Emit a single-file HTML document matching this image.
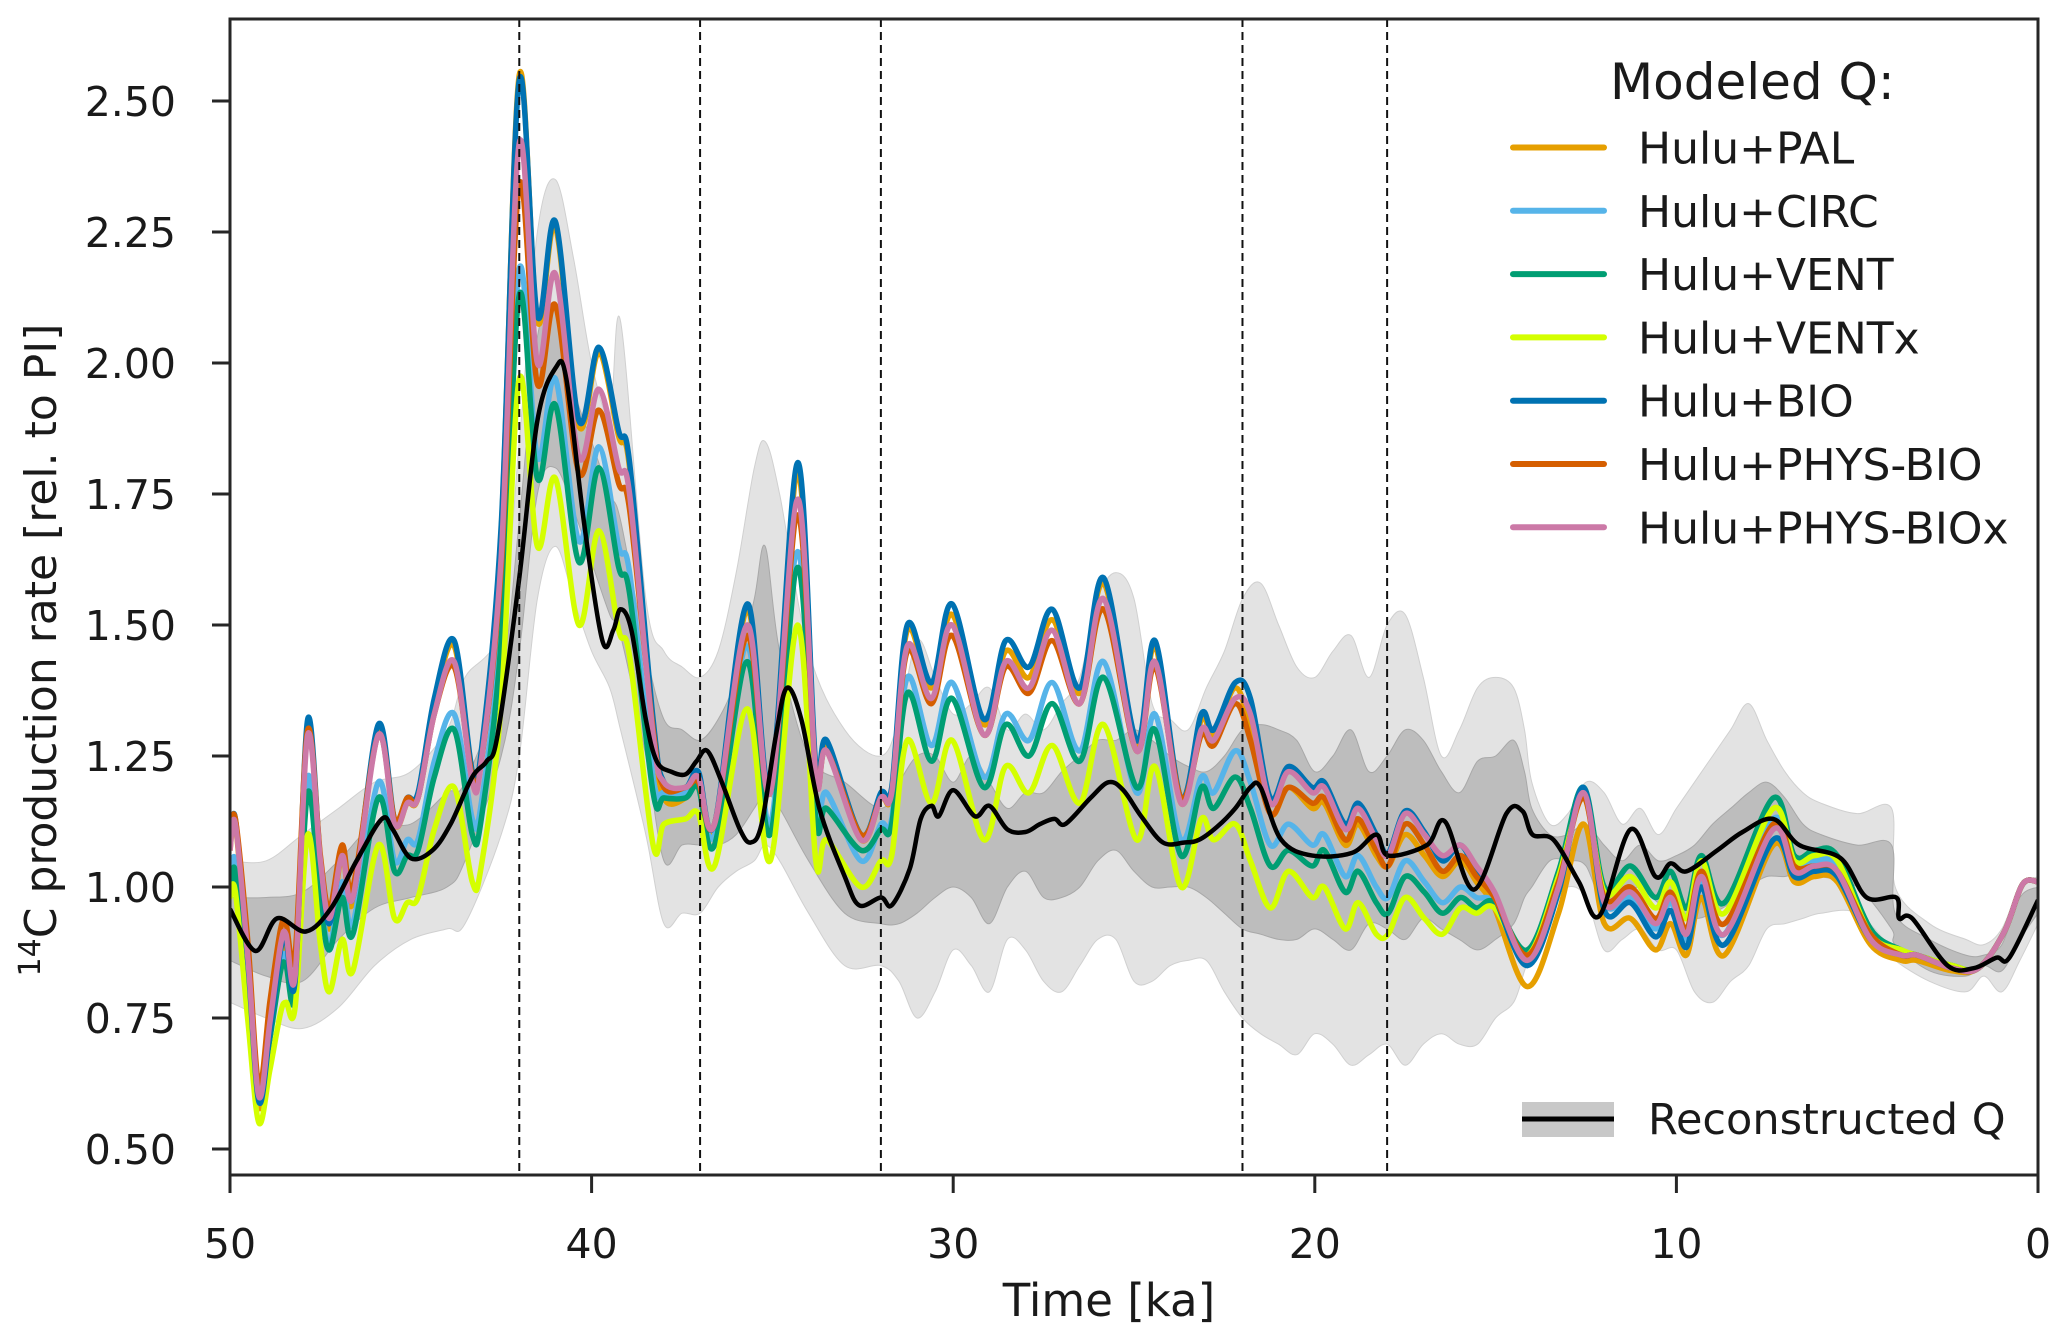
<!DOCTYPE html>
<html><head><meta charset="utf-8"><style>
html,body{margin:0;padding:0;background:#fff;}
svg{display:block;font-family:"DejaVu Sans","Liberation Sans",sans-serif;}
</style></head><body>
<svg id="chart" width="2067" height="1340" viewBox="0 0 2067 1340" xmlns="http://www.w3.org/2000/svg">
<defs><clipPath id="plotclip"><rect x="230" y="19" width="1808" height="1156"/></clipPath></defs>
<g id="bands" clip-path="url(#plotclip)"></g>
<g id="series" clip-path="url(#plotclip)"></g>
<g id="vlines"></g>
<g id="axes"></g>
<text x="1109" y="1316" font-size="45" text-anchor="middle" fill="#1a1a1a">Time [ka]</text>
<text transform="translate(56,650) rotate(-90)" font-size="44" text-anchor="middle" fill="#1a1a1a"><tspan font-size="30" dy="-16">14</tspan><tspan dy="16">C production rate [rel. to PI]</tspan></text>
<g id="legend">
<text x="1610" y="99" font-size="50" fill="#1a1a1a">Modeled Q:</text>
</g>
<g>
<rect x="1522" y="1102" width="92" height="35" fill="#c8c8c8"/>
<line x1="1522" y1="1119" x2="1614" y2="1119" stroke="#000" stroke-width="5"/>
<text x="1648" y="1134" font-size="43" fill="#1a1a1a">Reconstructed Q</text>
</g>
</svg>
<script>
const times=[50,49.85,49.5,49.2,48.9,48.6,48.45,48.2,47.85,47.5,47.25,46.9,46.6,45.9,45.45,45.1,44.8,44.35,43.8,43.3,43.05,42.5,42.0,41.5,41.0,40.35,39.8,39.25,38.95,38.3,38.0,37.4,37.05,36.6,35.7,35.06,34.3,33.8,33.5,32.55,32.0,31.7,31.27,30.6,30.03,29.15,28.55,27.9,27.26,26.5,25.84,24.93,24.42,23.7,23.14,22.8,22.2,21.78,21.23,20.73,20.07,19.74,19.16,18.8,18.3,17.97,17.5,16.97,16.47,15.97,15.53,15.03,14.12,13.26,12.57,11.99,11.27,10.58,10.16,9.72,9.31,8.67,7.32,6.74,6.18,5.55,4.63,3.78,3.35,2.37,1.65,0.93,0.43,0];
const qBIO=[1.08,1.13,0.85,0.59,0.72,0.88,0.90,0.82,1.32,1.05,0.93,1.07,0.98,1.31,1.13,1.17,1.18,1.36,1.47,1.22,1.26,1.69,2.54,2.09,2.27,1.89,2.03,1.87,1.81,1.32,1.20,1.19,1.22,1.12,1.54,1.19,1.81,1.23,1.28,1.10,1.18,1.19,1.50,1.39,1.54,1.32,1.47,1.42,1.53,1.38,1.59,1.28,1.47,1.17,1.33,1.30,1.39,1.36,1.17,1.23,1.19,1.20,1.12,1.16,1.10,1.065,1.145,1.105,1.05,1.08,1.03,0.98,0.85,0.99,1.19,0.955,0.97,0.905,0.955,0.885,1.0,0.89,1.09,1.02,1.03,1.02,0.90,0.87,0.87,0.845,0.845,0.915,1.005,1.01];
const qPAL=[1.07,1.12,0.84,0.58,0.71,0.87,0.89,0.81,1.31,1.04,0.92,1.06,0.97,1.30,1.12,1.16,1.17,1.35,1.46,1.21,1.25,1.68,2.55,2.08,2.26,1.88,2.02,1.86,1.80,1.31,1.17,1.17,1.21,1.11,1.53,1.18,1.79,1.22,1.27,1.09,1.17,1.18,1.49,1.38,1.52,1.31,1.45,1.40,1.51,1.37,1.58,1.27,1.46,1.16,1.32,1.29,1.38,1.30,1.14,1.19,1.15,1.16,1.08,1.12,1.06,1.04,1.10,1.06,1.02,1.05,1.01,0.96,0.81,0.95,1.12,0.93,0.94,0.88,0.93,0.87,0.98,0.87,1.08,1.01,1.02,1.01,0.89,0.86,0.86,0.84,0.845,0.915,1.005,1.01];
const qPHYSBIOx=[1.07,1.12,0.86,0.60,0.74,0.89,0.91,0.83,1.29,1.05,0.94,1.06,0.98,1.29,1.12,1.16,1.17,1.33,1.43,1.20,1.24,1.63,2.42,2.00,2.17,1.82,1.95,1.80,1.75,1.29,1.20,1.19,1.21,1.12,1.50,1.18,1.74,1.21,1.26,1.09,1.17,1.18,1.46,1.36,1.50,1.29,1.43,1.38,1.49,1.35,1.55,1.26,1.43,1.16,1.30,1.28,1.36,1.33,1.16,1.22,1.18,1.19,1.11,1.15,1.09,1.06,1.14,1.10,1.06,1.08,1.04,0.99,0.86,1.00,1.18,0.97,0.99,0.93,0.98,0.91,1.02,0.91,1.11,1.03,1.04,1.03,0.90,0.87,0.87,0.845,0.845,0.915,1.005,1.01];
const qPHYSBIO=[1.09,1.13,0.89,0.62,0.78,0.92,0.93,0.87,1.30,1.06,0.96,1.08,1.00,1.29,1.13,1.17,1.17,1.33,1.42,1.21,1.24,1.61,2.34,1.96,2.11,1.79,1.91,1.77,1.72,1.30,1.19,1.19,1.20,1.12,1.48,1.18,1.71,1.21,1.26,1.10,1.17,1.18,1.45,1.35,1.48,1.29,1.42,1.37,1.47,1.35,1.53,1.26,1.42,1.17,1.29,1.27,1.35,1.28,1.14,1.19,1.16,1.17,1.09,1.13,1.07,1.04,1.12,1.08,1.03,1.06,1.02,0.98,0.87,1.01,1.17,0.98,1.00,0.94,0.99,0.92,1.03,0.93,1.12,1.04,1.04,1.03,0.91,0.87,0.87,0.845,0.845,0.915,1.005,1.01];
const qCIRC=[1.01,1.05,0.83,0.60,0.73,0.85,0.87,0.81,1.21,0.99,0.89,1.01,0.93,1.20,1.05,1.09,1.09,1.24,1.33,1.13,1.16,1.50,2.18,1.82,1.97,1.66,1.84,1.65,1.60,1.21,1.18,1.18,1.20,1.10,1.46,1.12,1.64,1.14,1.18,1.05,1.12,1.13,1.40,1.27,1.39,1.21,1.33,1.28,1.39,1.26,1.43,1.18,1.33,1.09,1.21,1.18,1.26,1.20,1.08,1.12,1.08,1.10,1.02,1.06,1.00,0.98,1.05,1.01,0.97,1.00,0.98,0.97,0.87,1.02,1.19,0.97,0.98,0.92,0.97,0.90,1.01,0.91,1.13,1.04,1.05,1.04,0.91,0.87,0.87,0.845,0.845,0.915,1.005,1.01];
const qVENT=[0.99,1.03,0.81,0.60,0.71,0.84,0.85,0.79,1.18,0.97,0.88,0.98,0.91,1.17,1.03,1.06,1.07,1.21,1.30,1.10,1.13,1.47,2.13,1.78,1.92,1.62,1.80,1.61,1.56,1.18,1.17,1.17,1.19,1.08,1.43,1.10,1.61,1.13,1.15,1.07,1.11,1.12,1.37,1.24,1.36,1.19,1.31,1.25,1.35,1.24,1.40,1.19,1.30,1.06,1.19,1.15,1.21,1.15,1.04,1.07,1.04,1.07,0.99,1.03,0.97,0.95,1.02,0.99,0.95,0.98,0.96,0.97,0.88,1.03,1.19,1.00,1.04,0.98,1.03,0.96,1.06,0.97,1.17,1.06,1.07,1.06,0.92,0.88,0.87,0.85,0.845,0.915,1.005,1.01];
const qVENTx=[0.98,0.99,0.74,0.55,0.65,0.76,0.78,0.77,1.10,0.89,0.80,0.90,0.84,1.08,0.94,0.97,0.98,1.11,1.19,1.01,1.04,1.35,1.97,1.65,1.78,1.50,1.68,1.49,1.44,1.08,1.12,1.13,1.14,1.04,1.34,1.05,1.50,1.05,1.09,1.00,1.05,1.06,1.28,1.16,1.28,1.09,1.23,1.18,1.27,1.16,1.31,1.09,1.23,1.00,1.13,1.09,1.12,1.05,0.96,1.03,0.98,1.00,0.92,0.97,0.91,0.91,0.98,0.94,0.91,0.96,0.95,0.96,0.87,1.02,1.17,0.99,1.02,0.96,1.01,0.94,1.05,0.95,1.15,1.05,1.06,1.05,0.91,0.88,0.87,0.85,0.845,0.915,1.005,1.01];
const recTimes=[50,49.3,48.7,47.9,47.2,46.5,45.8,45.5,45.0,44.4,43.9,43.3,42.9,42.6,42.0,41.5,41.0,40.7,40.2,39.7,39.4,39.2,38.9,38.5,38.2,37.8,37.4,37.1,36.8,36.4,35.9,35.6,35.3,34.9,34.6,34.2,33.7,33.0,32.6,32.0,31.7,31.2,30.9,30.6,30.4,30.0,29.4,29.0,28.5,28.0,27.6,27.2,26.9,26.2,25.7,25.3,24.8,24.2,23.6,23.2,22.7,22.2,21.78,21.5,20.93,20.07,18.97,18.3,17.97,16.9,16.4,15.6,14.7,14.26,13.98,13.4,12.7,12.13,11.27,10.58,10.16,9.72,8.87,8.17,7.32,6.6,5.46,4.74,3.92,3.84,3.48,2.5,1.78,1.15,0.79,0];
const recQ=[0.958,0.878,0.94,0.915,0.96,1.05,1.13,1.11,1.055,1.07,1.12,1.21,1.24,1.29,1.59,1.89,1.99,1.97,1.69,1.47,1.49,1.53,1.49,1.32,1.24,1.22,1.215,1.24,1.26,1.20,1.11,1.085,1.12,1.29,1.38,1.32,1.15,1.02,0.965,0.98,0.965,1.035,1.13,1.155,1.135,1.185,1.135,1.155,1.11,1.105,1.12,1.13,1.12,1.17,1.20,1.185,1.135,1.085,1.085,1.09,1.115,1.15,1.19,1.19,1.09,1.06,1.065,1.10,1.06,1.08,1.125,0.995,1.14,1.145,1.10,1.09,1.01,0.945,1.11,1.02,1.045,1.03,1.07,1.105,1.13,1.08,1.055,0.98,0.98,0.94,0.94,0.85,0.845,0.865,0.865,0.975];
const bandTimes=[50,49,48,47,46,45,44,43.5,42.5,42,41.5,41,40.5,40,39.5,39.2,38.5,38,37.5,37,36.5,36,35.5,35.2,34.8,34,33,32,31.5,31,30.5,30,29.5,29,28.5,28,27.5,27,26.5,26,25.5,25,24.5,24,23.5,23,22.5,22,21.5,21,20.5,20,19.5,19,18.5,18,17.5,17,16.5,16,15.5,15,14.5,14.2,14,13.5,13,12.5,12,11.5,11,10.5,10,9.5,9,8.5,8,7.5,7,6.5,6,5,4.05,3.95,3,2,1.5,1,0.5,0];
const lightLo=[0.78,0.75,0.73,0.77,0.85,0.90,0.92,0.93,1.10,1.25,1.55,1.65,1.55,1.45,1.38,1.30,1.10,0.93,0.95,0.95,1.00,1.03,1.05,1.08,1.05,0.95,0.85,0.85,0.82,0.75,0.80,0.88,0.85,0.80,0.90,0.88,0.82,0.80,0.85,0.90,0.90,0.82,0.82,0.85,0.86,0.86,0.80,0.75,0.72,0.70,0.68,0.72,0.70,0.66,0.68,0.70,0.66,0.70,0.72,0.70,0.70,0.75,0.78,0.84,0.88,0.96,1.00,0.98,0.88,0.90,0.92,0.88,0.88,0.80,0.78,0.82,0.85,0.92,0.93,0.94,0.95,0.95,0.88,0.86,0.82,0.80,0.83,0.80,0.86,0.93];
const darkLo=[0.86,0.83,0.82,0.90,0.96,0.98,1.00,1.05,1.25,1.45,1.75,1.80,1.72,1.62,1.52,1.48,1.25,1.05,1.08,1.08,1.08,1.10,1.15,1.18,1.15,1.05,0.95,0.93,0.93,0.95,0.98,1.00,0.98,0.93,1.00,1.03,0.98,0.98,1.00,1.05,1.07,1.03,1.00,1.00,1.00,0.98,0.95,0.92,0.91,0.90,0.90,0.92,0.90,0.88,0.93,0.92,0.90,0.94,0.92,0.90,0.88,0.90,0.93,0.98,1.00,1.05,1.05,1.04,0.96,0.98,1.00,0.97,0.96,0.94,0.95,0.97,1.00,1.02,1.02,1.03,1.02,1.00,0.92,0.89,0.84,0.83,0.85,0.84,0.90,0.95];
const darkHi=[0.98,0.98,0.99,1.05,1.12,1.12,1.18,1.20,1.40,1.70,2.05,2.10,1.95,1.85,1.75,1.70,1.45,1.32,1.30,1.28,1.32,1.40,1.55,1.65,1.45,1.25,1.20,1.15,1.20,1.25,1.25,1.20,1.25,1.20,1.15,1.18,1.18,1.22,1.25,1.28,1.28,1.30,1.28,1.25,1.23,1.22,1.25,1.30,1.31,1.30,1.28,1.22,1.25,1.30,1.22,1.25,1.30,1.28,1.22,1.18,1.24,1.25,1.28,1.22,1.15,1.10,1.10,1.12,1.08,1.05,1.08,1.05,1.06,1.08,1.12,1.15,1.18,1.20,1.17,1.12,1.10,1.08,1.08,0.95,0.90,0.87,0.87,0.89,0.98,1.00];
const lightHi=[1.05,1.05,1.10,1.15,1.20,1.22,1.30,1.40,1.50,1.85,2.25,2.35,2.20,2.00,1.90,2.08,1.55,1.45,1.42,1.40,1.45,1.60,1.80,1.85,1.75,1.45,1.30,1.25,1.32,1.47,1.40,1.33,1.35,1.38,1.30,1.33,1.30,1.35,1.40,1.55,1.60,1.55,1.35,1.32,1.30,1.38,1.45,1.55,1.58,1.50,1.42,1.40,1.45,1.48,1.40,1.50,1.52,1.40,1.25,1.30,1.38,1.40,1.38,1.30,1.20,1.12,1.14,1.20,1.18,1.12,1.15,1.10,1.15,1.20,1.25,1.30,1.35,1.28,1.22,1.18,1.16,1.14,1.15,1.00,0.93,0.90,0.89,0.92,1.00,1.02];
const eventTimes=[42,37,32,22,18];
const xTicks=[50,40,30,20,10,0];
const yTicks=[0.50,0.75,1.00,1.25,1.50,1.75,2.00,2.25,2.50];
const seriesNames=["Hulu+PAL","Hulu+CIRC","Hulu+VENT","Hulu+VENTx","Hulu+BIO","Hulu+PHYS-BIO","Hulu+PHYS-BIOx"];
const seriesData=[qPAL,qCIRC,qVENT,qVENTx,qBIO,qPHYSBIO,qPHYSBIOx];
const seriesColors=["#E69F00","#56B4E9","#009E73","#D4FF00","#0072B2","#D55E00","#CC79A7"];

const L=230,R=2038,T=19,B=1175;
const xs=t=>L+(50-t)/50*(R-L);
const ys=v=>101+(2.5-v)/0.25*131;
const NS="http://www.w3.org/2000/svg";
function mk(tag,attrs,parent){const e=document.createElementNS(NS,tag);for(const k in attrs)e.setAttribute(k,attrs[k]);parent.appendChild(e);return e;}
function pts(tt,vv){const n=Math.min(tt.length,vv.length);const p=[];for(let i=0;i<n;i++)p.push([xs(tt[i]),ys(vv[i])]);return p;}
function smooth(p,move){let d=(move?"M":"L")+p[0][0].toFixed(1)+","+p[0][1].toFixed(1);
 for(let i=0;i<p.length-1;i++){const p0=p[i-1]||p[i],p1=p[i],p2=p[i+1],p3=p[i+2]||p2;
  const c1=[p1[0]+(p2[0]-p0[0])/6,p1[1]+(p2[1]-p0[1])/6],c2=[p2[0]-(p3[0]-p1[0])/6,p2[1]-(p3[1]-p1[1])/6];
  d+="C"+c1[0].toFixed(1)+","+c1[1].toFixed(1)+" "+c2[0].toFixed(1)+","+c2[1].toFixed(1)+" "+p2[0].toFixed(1)+","+p2[1].toFixed(1);}
 return d;}
function band(lo,hi){const a=pts(bandTimes,hi),b=pts(bandTimes,lo).reverse();return smooth(a,true)+smooth(b,false)+"Z";}

const gB=document.getElementById("bands");
const lb=mk("path",{d:band(lightLo,lightHi),fill:"#e3e3e3",stroke:"#d0d0d0","stroke-width":1},gB);


const db=mk("path",{d:band(darkLo,darkHi),fill:"#bdbdbd",stroke:"#a8a8a8","stroke-width":1},gB);



const gS=document.getElementById("series");
seriesData.forEach((vals,i)=>{
 const p=mk("path",{d:smooth(pts(times,vals),true),fill:"none",stroke:seriesColors[i],"stroke-width":5.5,"stroke-linejoin":"round"},gS);
 
 
});
const rl=mk("path",{d:smooth(pts(recTimes,recQ),true),fill:"none",stroke:"#000","stroke-width":4.5,"stroke-linejoin":"round"},gS);



const gV=document.getElementById("vlines");
eventTimes.forEach(t=>{
 const l=mk("line",{x1:xs(t),x2:xs(t),y1:T,y2:B,stroke:"#111","stroke-width":2,"stroke-dasharray":"8,5"},gV);
 
 
});

const gA=document.getElementById("axes");
const fr=mk("rect",{x:L,y:T,width:R-L,height:B-T,fill:"none",stroke:"#262626","stroke-width":3},gA);


yTicks.forEach(v=>{
 const tk=mk("line",{x1:L-18,x2:L,y1:ys(v),y2:ys(v),stroke:"#262626","stroke-width":3},gA);
 
 
 const tx=mk("text",{x:176,y:ys(v)+15,"font-size":41,"text-anchor":"end",fill:"#1a1a1a"},gA);
 tx.textContent=v.toFixed(2);
 
 
});
xTicks.forEach(t=>{
 const tk=mk("line",{x1:xs(t),x2:xs(t),y1:B,y2:B+18,stroke:"#262626","stroke-width":3},gA);
 
 
 const tx=mk("text",{x:xs(t),y:1258,"font-size":41,"text-anchor":"middle",fill:"#1a1a1a"},gA);
 tx.textContent=String(t);
 
 
});

const gL=document.getElementById("legend");
seriesNames.forEach((n,i)=>{
 const y=147.5+i*63.3;
 const g=mk("g",{},gL);
 
 
 mk("line",{x1:1513,x2:1604,y1:y,y2:y,stroke:seriesColors[i],"stroke-width":6,"stroke-linecap":"round"},g);
 const tx=mk("text",{x:1638,y:y+16,"font-size":44,fill:"#1a1a1a"},g);
 tx.textContent=n;
});
</script>
</body></html>
